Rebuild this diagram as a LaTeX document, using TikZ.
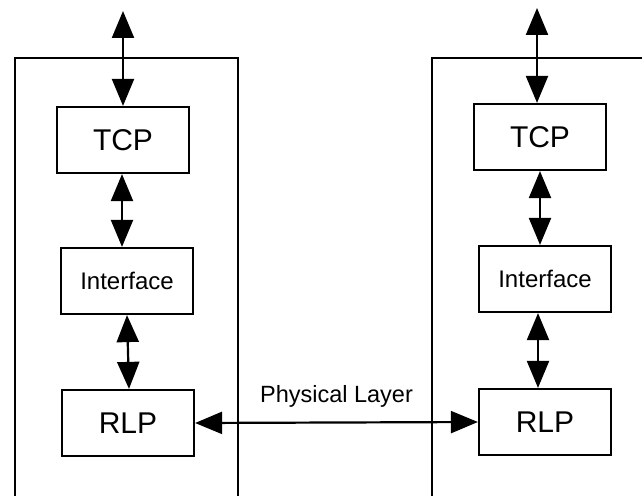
\documentclass[tikz,border=0pt]{standalone}
\usepackage{fontspec}
\setmainfont{Liberation Sans}
\usetikzlibrary{arrows.meta}
\begin{document}
\begin{tikzpicture}[x=1pt,y=-1pt,
  frame/.style={line width=2.2pt},
  layerbox/.style={draw,line width=2.2pt,rectangle,inner sep=0pt,
    minimum width=132pt,minimum height=66pt},
  link/.style={line width=2.2pt,
    {Triangle[length=27pt,width=22pt]}-{Triangle[length=27pt,width=22pt]}},
  big/.style={font=\fontsize{30}{31}\selectfont},
  small/.style={font=\fontsize{24}{25}\selectfont}]
\useasboundingbox (0,0) rectangle (642,495);

% host frames, open at the bottom
\draw[frame] (15,497) -- (15,58) -- (238,58) -- (238,497);
\draw[frame] (432,497) -- (432,58) -- (644,58);

% left stack
\node[layerbox,big]   (tcpL) at (123,140) {TCP};
\node[layerbox,small] (ifL)  at (127,281) {Interface};
\node[layerbox,big]   (rlpL) at (128,423) {RLP};
\coordinate (topL) at (123,11);

% right stack
\node[layerbox,big]   (tcpR) at (540,137) {TCP};
\node[layerbox,small] (ifR)  at (545,279) {Interface};
\node[layerbox,big]   (rlpR) at (545,422) {RLP};
\coordinate (topR) at (537,8);

% vertical links
\draw[link] (topL) -- (tcpL.north -| topL);
\draw[link] (tcpL.south -| 122,0) -- (ifL.north -| 122,0);
\draw[link] (ifL.south -| 127,0) -- (rlpL.north -| 129,0);
\draw[link] (topR) -- (tcpR.north -| topR);
\draw[link] (tcpR.south -| 540,0) -- (ifR.north -| 540,0);
\draw[link] (ifR.south -| 538,0) -- (rlpR.north -| 538,0);

% physical layer link
\draw[link] (rlpL.east) -- (rlpR.west)
  node[midway,above=11pt,font=\fontsize{23.5}{25}\selectfont] (phy) {Physical Layer};
\end{tikzpicture}
\end{document}
